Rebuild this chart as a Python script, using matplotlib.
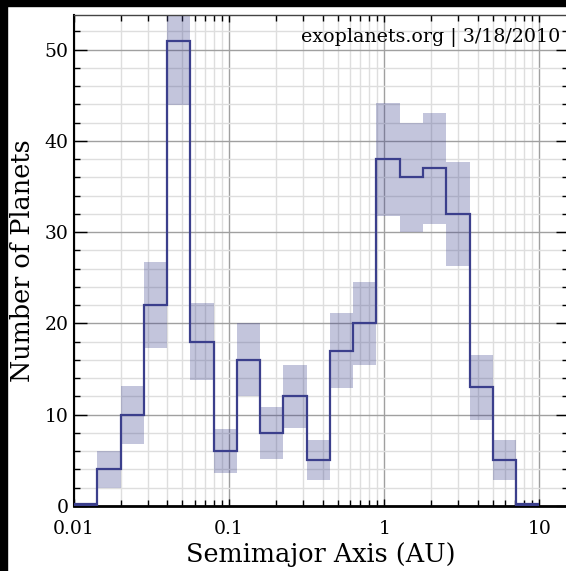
import numpy as np
import matplotlib
matplotlib.use("Agg")
import matplotlib.pyplot as plt
from matplotlib.patches import Rectangle
from matplotlib.ticker import FixedLocator, NullFormatter, MultipleLocator

# bin edges (log spaced, 0.15 dex) and counts
bin_edges = [0.01, 0.0141, 0.02, 0.0282, 0.0398, 0.0562, 0.0794, 0.112, 0.158,
             0.224, 0.316, 0.447, 0.631, 0.891, 1.26, 1.78, 2.51, 3.55, 5.01,
             7.08, 10.0]
counts = [0, 4, 10, 22, 51, 18, 6, 16, 8, 12, 5, 17, 20, 38, 36, 37, 32, 13, 5, 0]
# half-height of the shaded error boxes
errors = [0, 2.0, 3.2, 4.7, 7.1, 4.2, 2.4, 4.0, 2.8, 3.5, 2.2, 4.1, 4.5, 6.2,
          6.0, 6.1, 5.7, 3.6, 2.2, 0]

x_ticks = [0.01, 0.1, 1, 10]
x_tick_labels = ["0.01", "0.1", "1", "10"]
y_ticks = [0, 10, 20, 30, 40, 50]

NAVY = "#3b3f8c"

plt.rcParams["font.family"] = ["DejaVu Serif"]

fig = plt.figure(figsize=(5.66, 5.71), dpi=100, facecolor="white")
ax = fig.add_axes([74 / 566, 1 - 506 / 571, 494 / 566, 491 / 571])

edges = np.array(bin_edges)
c = np.array(counts)
e = np.array(errors)

# shaded error boxes
ax.bar(edges[:-1], 2 * e, bottom=c - e, width=np.diff(edges), align="edge",
       color=NAVY, alpha=0.3, linewidth=0, zorder=2)
# step outline
ax.stairs(c, edges, baseline=None, color=NAVY, linewidth=1.6, zorder=3)
# empty bins: keep the line visible just above the x axis
zero = c == 0
ax.hlines(np.full(zero.sum(), 0.2), edges[:-1][zero], edges[1:][zero],
          color=NAVY, linewidth=1.6, zorder=4, clip_on=False)

ax.set_xscale("log")
ax.set_xlim(0.01, 15.3)
ax.set_ylim(0, 53.8)

ax.xaxis.set_major_locator(FixedLocator(x_ticks))
ax.set_xticklabels(x_tick_labels)
minor = [m * 10.0 ** d for d in range(-2, 2) for m in range(2, 10)]
ax.xaxis.set_minor_locator(FixedLocator(minor))
ax.xaxis.set_minor_formatter(NullFormatter())
ax.set_yticks(y_ticks)
ax.yaxis.set_minor_locator(MultipleLocator(2))

ax.grid(which="major", color="#a0a0a0", linewidth=1.0, zorder=0)
ax.grid(which="minor", color="#dedede", linewidth=1.0, zorder=0)
ax.set_axisbelow(True)

ax.tick_params(which="both", direction="in", top=True, right=True,
               labelsize=13.5, colors="black")
ax.tick_params(which="major", length=9, width=1.0)
ax.tick_params(which="minor", length=4, width=1.0)
ax.tick_params(axis="x", which="major", length=5, pad=10)
ax.tick_params(axis="y", which="major", pad=4)

ax.spines["bottom"].set_linewidth(2.0)
ax.spines["left"].set_linewidth(1.5)
ax.spines["top"].set_linewidth(1.0)
ax.spines["top"].set_color("#444444")

ax.set_xlabel("Semimajor Axis (AU)", fontsize=18.4, labelpad=3)
ax.set_ylabel("Number of Planets", fontsize=18.4, labelpad=7)

ax.text(0.984, 0.955, "exoplanets.org | 3/18/2010", transform=ax.transAxes,
        ha="right", va="center", fontsize=13.7, zorder=5)

# black frame strips from the cropped screenshot
fig.add_artist(Rectangle((0, 1 - 5.5 / 571), 1, 5.5 / 571,
                         transform=fig.transFigure, color="black", zorder=10))
fig.add_artist(Rectangle((0, 0), 7.3 / 566, 1,
                         transform=fig.transFigure, color="black", zorder=10))

fig.savefig("out.png", dpi=100, facecolor="white")
